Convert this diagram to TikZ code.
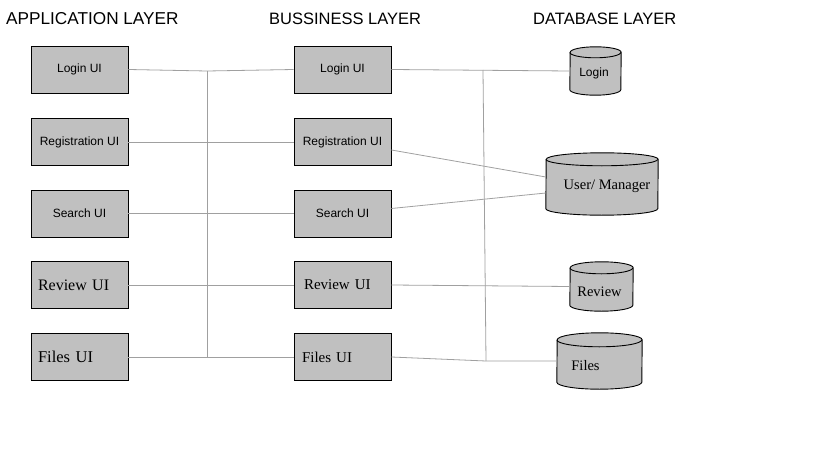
\documentclass[tikz,border=0pt]{standalone}
\usepackage{fontspec}
\setmainfont{Liberation Serif}
\setsansfont{Liberation Sans}
\definecolor{boxgrey}{RGB}{192,192,192}
\definecolor{linegrey}{RGB}{160,160,160}
\tikzset{
  uibox/.style={draw, fill=boxgrey, line width=0.9pt, minimum width=97pt, minimum height=47pt, inner sep=0pt, font=\sffamily\fontsize{12}{12}\selectfont},
  uiboxl/.style={uibox, inner xsep=7pt, text width=83pt, align=left, font=\fontsize{15}{15}\selectfont},
  dbarea/.style={inner sep=0pt},
  dbtext/.style={inner sep=0pt, font=\fontsize{14.5}{15}\selectfont},
  link/.style={draw=linegrey, line width=0.8pt},
  layer/.style={anchor=base west, inner sep=0pt, font=\sffamily\fontsize{16.5}{17}\selectfont},
}
% drum shape over a named area: #1 name, #2 half width, #3 half height of the ends
\newcommand{\drum}[3]{%
  \draw[line width=0.9pt, fill=boxgrey]
    ([yshift=#3pt]#1.south west) arc[start angle=180, end angle=360, x radius=#2pt, y radius=#3pt]
    -- ([yshift=-#3pt]#1.north east) arc[start angle=0, end angle=180, x radius=#2pt, y radius=#3pt]
    -- cycle;
  \draw[line width=0.9pt] ([yshift=-#3pt]#1.north west)
    arc[start angle=180, end angle=360, x radius=#2pt, y radius=#3pt];
}
\begin{document}
\begin{tikzpicture}[x=1pt,y=-1pt]
\useasboundingbox (0,0) rectangle (819,460);
% layer titles
\node[layer, font=\sffamily\fontsize{17.2}{17}\selectfont] (tApp) at (6,25) {APPLICATION LAYER};
\node[layer] (tBus) at (269,25) {BUSSINESS LAYER};
\node[layer] (tDb) at (533,25) {DATABASE LAYER};
% application layer
\node[uibox] (appLogin) at (79.5,69.5) {Login UI};
\node[uibox] (appReg) at (79.5,142) {Registration UI};
\node[uibox] (appSearch) at (79.5,213.5) {Search UI};
\node[uiboxl, font=\fontsize{16}{16}\selectfont] (appReview) at (79.5,285) {Review UI};
\node[uiboxl, font=\fontsize{16.5}{16}\selectfont] (appFiles) at (79.5,357) {Files UI};
% business layer
\node[uibox] (busLogin) at (342.5,69.5) {Login UI};
\node[uibox] (busReg) at (342.5,142) {Registration UI};
\node[uibox] (busSearch) at (342.5,213.5) {Search UI};
\node[uiboxl, inner xsep=10pt, text width=77pt] (busReview) at (342.5,285) {Review UI};
\node[uiboxl, inner xsep=8pt, text width=81pt] (busFiles) at (342.5,357) {Files UI};
% database layer
\node[dbarea, minimum width=51pt, minimum height=48pt] (dbLogin) at (595.5,71) {};
\node[dbarea, minimum width=112pt, minimum height=62pt] (dbUser) at (602,184) {};
\node[dbarea, minimum width=63pt, minimum height=49pt] (dbReview) at (601.5,286.5) {};
\node[dbarea, minimum width=85pt, minimum height=56pt] (dbFiles) at (599.5,361) {};
\drum{dbLogin}{25.5}{5.5}
\drum{dbUser}{56}{6.5}
\drum{dbReview}{31.5}{6}
\drum{dbFiles}{42.5}{7}
\node[dbtext, font=\sffamily\fontsize{12}{12}\selectfont] (lLogin) at (594,73) {Login};
\node[dbtext] (lUser) at (607,186) {User/ Manager};
\node[dbtext] (lReview) at (599.5,292) {Review};
\node[dbtext] (lFiles) at (585.5,366) {Files};
% connectors
\coordinate (jA1) at (207,71);
\coordinate (jA2) at (207,357);
\coordinate (jB1) at (483,70);
\coordinate (jB2) at (486,361);
\draw[link] (jA1) -- (jA2);
\draw[link] (jB1) -- (jB2);
\draw[link] (appLogin.east) -- (jA1) -- (busLogin.west);
\draw[link] (appReg.east) -- (busReg.west);
\draw[link] (appSearch.east) -- (busSearch.west);
\draw[link] (appReview.east) -- (busReview.west);
\draw[link] (appFiles.east) -- (busFiles.west);
\draw[link] (busLogin.east) -- (dbLogin.west);
\draw[link] ([yshift=-8pt]busReg.east) -- ([yshift=7pt]dbUser.west);
\draw[link] ([yshift=5pt]busSearch.east) -- ([yshift=-9pt]dbUser.west);
\draw[link] (busReview.east) -- (dbReview.west);
\draw[link] (busFiles.east) -- (jB2) -- (dbFiles.west);
\end{tikzpicture}
\end{document}
